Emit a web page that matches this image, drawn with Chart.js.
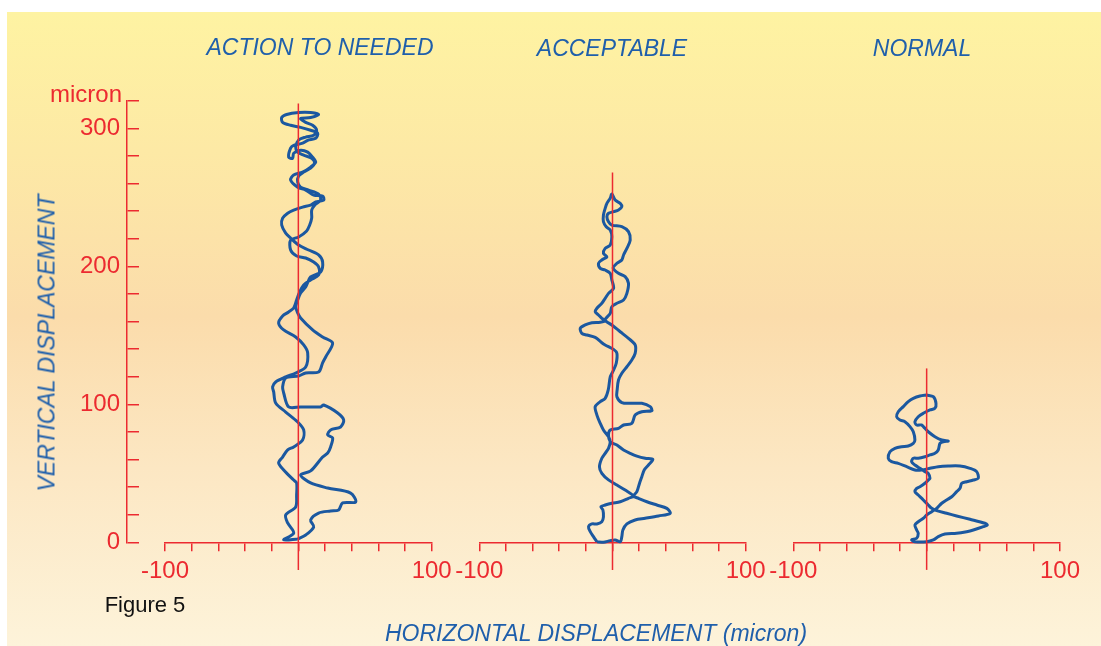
<!DOCTYPE html>
<html>
<head>
<meta charset="utf-8">
<script src="https://cdn.jsdelivr.net/npm/chart.js@4.4.1/dist/chart.umd.min.js"></script>
<style>
html,body{margin:0;padding:0;background:#fff;}
#wrap{position:relative;width:1101px;height:646px;overflow:hidden;background:#fff;}
#bg{position:absolute;left:7px;top:12px;right:0;bottom:0;
 background:linear-gradient(to bottom,#fef3a2 0%,#fde9a5 22%,#fbdcab 48%,#fce7c3 72%,#fdf3da 100%);}
canvas{position:absolute;left:0;top:0;}
.t{position:absolute;font-family:"Liberation Sans",Arial,sans-serif;white-space:nowrap;line-height:1;transform:translate(-50%,-50%);}
.blue{color:#1f5fab;font-style:italic;font-size:23px;}
</style>
</head>
<body>
<div id="wrap">
  <div id="bg"></div>
  <canvas id="cy" width="1101" height="646"></canvas>
  <canvas id="c1" width="1101" height="646"></canvas>
  <canvas id="c2" width="1101" height="646"></canvas>
  <canvas id="c3" width="1101" height="646"></canvas>
  <div class="t blue" id="t1" style="left:320px;top:47px;"></div>
  <div class="t blue" id="t2" style="left:612px;top:48px;"></div>
  <div class="t blue" id="t3" style="left:922px;top:48px;"></div>
  <div class="t blue" id="ty" style="left:47px;top:343px;transform:translate(-50%,-50%) rotate(-90deg);"></div>
  <div class="t blue" id="tx" style="left:596px;top:633px;"></div>
  <div class="t" id="tfig" style="left:145px;top:605px;font-size:22px;color:#111;"></div>
  <div class="t" id="tunit" style="left:86px;top:94px;font-size:24px;color:#ec2a30;"></div>
</div>
<script>
// ---------- data ----------
const panelTitles = ["ACTION TO NEEDED", "ACCEPTABLE", "NORMAL"];
const yAxisTitle = "VERTICAL DISPLACEMENT";
const xAxisTitle = "HORIZONTAL DISPLACEMENT (micron)";
const figureLabel = "Figure 5";
const unitLabel = "micron";
const xLabelValues = [-100, 100];
const yLabelValues = [0, 100, 200, 300];
const xRange = [-100, 100];
const yRange = [0, 320];
const centerLineTop = [318, 268, 126];

const actionX = [-0.5,5.5,11.5,9.2,15.2,24.2,30.2,33.2,43.0,39.2,22.0,9.2,1.7,9.2,18.2,22.0,24.2,25.7,22.0,24.2,31.7,34.0,29.5,19.0,16.7,1.7,-7.3,-11.0,-11.8,-9.5,0.2,5.5,15.2,18.2,20.5,25.7,18.2,10.7,1.7,-0.5,-2.0,-0.5,1.7,5.5,9.2,16.7,18.2,15.2,7.7,0.2,-5.8,-9.5,-12.5,-11.8,-8.0,-3.5,3.2,9.2,13.0,19.0,18.2,11.5,5.5,-0.5,-5.8,-3.5,3.2,9.2,13.0,10.7,7.0,1.7,-3.5,-4.3,-7.3,-5.8,-3.5,3.2,7.0,13.0,14.5,9.2,1.7,-5.8,-11.8,-12.5,-8.8,0.2,9.2,15.2,9.2,1.7,5.5,10.7,13.7,11.5,5.5,0.2,-2.0,-0.5,4.0,10.0,12.2,9.2,4.0,0.2,-0.5,1.7,7.7,15.2,16.7,12.2,10.0,10.0,8.5,6.2,0.2,-5.8,-5.8,-1.3,5.5,11.5,15.2,15.2,9.2,4.0,1.0,-1.3,-3.5,-7.3,-11.8,-14.8,-11.0,-2.0,4.0,7.0,5.5,-2.0,-9.5,-17.0,-19.3,-18.5,-17.0,-9.5,-0.5,4.0,3.2,-3.5,-8.0,-11.8,-14.8,-11.0,-3.5,-1.3,-1.3,-2.0,-9.5,-8.0,-3.5,-11.0,-0.5];
const actionY = [2.4,5.3,11.1,16.2,21.2,22.7,23.4,28.5,29.2,35.7,39.3,43.0,48.8,51.7,61.8,64.7,69.1,75.6,77.8,81.4,83.6,88.6,93.7,99.5,98.1,98.1,98.1,108.2,112.6,119.1,120.5,122.7,123.4,130.0,134.3,144.4,148.8,153.9,162.6,166.3,170.6,175.6,180.7,185.1,192.3,195.9,203.1,208.2,211.8,215.4,220.5,224.1,229.9,234.9,238.5,240.7,242.9,244.3,246.6,248.0,250.9,251.6,255.2,257.3,262.5,266.1,268.3,271.9,275.5,279.1,282.7,284.1,281.9,278.3,279.1,285.6,287.7,289.2,291.3,292.8,296.4,298.6,300.7,302.2,304.3,307.8,310.0,311.4,311.4,310.0,307.8,307.1,304.3,302.2,298.6,295.0,293.6,291.5,286.4,282.7,280.5,278.3,274.7,271.1,268.3,265.4,261.0,257.3,255.2,252.3,248.0,244.3,240.7,234.9,229.9,225.6,221.2,219.0,211.8,207.5,206.0,203.1,199.5,193.7,190.1,186.5,181.4,175.6,169.8,166.9,164.0,158.9,153.9,148.8,143.0,137.2,127.0,122.7,119.8,116.2,112.6,109.0,101.0,94.4,87.2,81.4,74.1,69.1,66.9,61.8,57.5,52.4,45.1,43.0,34.3,25.6,19.8,14.0,6.7,1.7,2.4];

const acceptX = [-11.7,-14.3,-16.7,-18.0,-15.5,-11.7,-8.0,-6.8,-7.2,-8.7,-5.5,-0.5,5.8,12.0,15.8,9.5,3.3,-3.0,-8.0,-9.8,-8.0,-5.5,-3.0,-1.7,-3.0,-6.8,-9.2,-11.7,-13.0,-9.2,-5.5,-3.2,-1.7,0.8,2.8,3.3,0.8,-5.5,-8.0,-13.0,-19.2,-23.0,-24.2,-20.5,-15.5,-9.2,-5.5,-8.0,-10.5,-13.0,-11.7,-8.0,-5.5,-3.0,0.8,-0.5,-1.7,-5.5,-9.2,-10.5,-8.0,-4.2,-6.8,-5.5,-1.7,-0.5,-1.7,-4.7,-6.8,-6.8,-5.5,-4.2,-1.7,-0.5,2.0,5.8,7.0,4.5,0.8,-3.0,-4.2,-3.0,-0.5,7.0,12.0,13.3,10.8,8.3,7.0,3.3,0.5,4.5,9.5,12.0,10.8,8.3,3.3,-0.5,-1.7,-5.5,-0.5,5.8,12.0,17.0,17.0,14.5,10.8,7.0,4.5,3.5,3.3,7.0,14.5,22.0,28.3,29.5,22.0,17.0,14.5,8.3,4.5,-1.7,-3.0,-1.7,3.3,8.3,13.3,18.3,24.5,30.3,27.0,23.8,22.0,20.3,18.3,15.8,19.5,25.8,33.3,40.8,43.3,34.5,24.5,17.0,10.8,7.8,7.0,5.8,2.0,-1.7,-6.8,-11.7];
const acceptY = [0.4,4.1,7.7,11.3,13.3,13.3,14.9,18.5,23.4,25.8,27.0,28.3,29.4,31.9,33.5,37.9,41.5,45.2,50.0,54.8,60.9,64.5,68.1,72.9,76.5,81.4,86.2,92.2,98.3,101.9,104.3,110.4,119.8,124.8,129.7,137.0,139.8,143.0,144.6,148.5,150.2,151.4,155.1,157.5,159.1,159.4,160.6,162.3,164.7,167.1,169.6,173.2,176.8,180.4,184.0,190.1,194.9,197.3,198.5,202.2,204.6,206.9,209.4,213.0,215.4,221.4,226.3,228.7,232.3,237.2,242.0,245.6,249.3,252.4,248.0,245.6,243.2,240.8,239.6,238.4,235.9,232.3,229.9,228.7,225.1,219.0,213.0,208.2,204.6,202.2,198.8,194.9,192.5,187.7,180.4,175.6,173.2,170.7,165.9,161.1,157.5,152.6,147.8,143.0,136.9,132.1,127.2,122.5,117.6,110.4,105.5,101.2,100.7,100.7,98.3,95.4,94.6,92.2,86.2,85.0,82.6,81.4,77.7,72.9,70.5,66.9,64.5,62.5,60.9,60.1,56.0,52.4,47.5,42.8,36.7,33.5,31.9,29.4,27.0,24.6,21.0,19.1,17.4,16.2,13.3,8.9,4.1,0.4,1.7,1.2,0.0,0.4];

const normalX = [0,-5.0,-10.0,-13.8,-17.5,-21.3,-22.5,-20.0,-16.3,-12.5,-10.0,-8.8,-10.0,-13.8,-18.8,-23.8,-27.5,-28.8,-26.3,-21.3,-15.0,-8.8,-3.8,2.5,8.7,16.2,25.0,32.5,37.5,38.7,35.0,30.0,26.3,25.0,22.5,18.8,15.0,11.3,7.5,3.8,0,-2.5,-6.3,-8.8,-7.5,-6.3,-7.5,-11.3,-8.8,0,5.0,8.7,13.7,22.5,30.0,35.0,42.5,45.5,43.7,32.5,22.5,15.0,7.5,3.8,1.2,-2.5,-6.3,-8.8,-7.5,-5.0,-1.3,1.2,2.5,1.2,-1.3,-5.0,-8.8,-11.3,-10.0,-6.3,-1.3,2.5,6.2,8.7,10.0,12.5,16.2,11.3,6.2,1.2,-1.3,-3.8,-7.5,-8.8,-6.3,-2.5,2.5,6.2,7.0,5.0,0];
const normalY = [106.7,106.0,104.3,101.9,98.3,94.6,91.0,88.6,87.4,83.8,80.1,74.1,71.7,69.8,69.3,68.1,65.6,60.9,58.4,57.2,54.8,52.4,52.4,53.6,54.8,55.3,55.3,53.6,51.2,46.4,45.1,43.9,42.8,39.1,36.7,33.0,30.7,28.3,24.6,22.2,19.8,17.4,14.9,12.5,8.9,6.5,2.9,1.7,0.4,0.4,1.7,4.1,6.0,6.5,7.7,8.9,11.3,12.5,13.8,16.7,19.1,21.0,22.9,24.6,27.0,30.7,34.3,36.7,39.1,40.3,42.8,45.1,46.4,50.0,51.2,53.6,56.0,58.4,60.9,60.9,62.0,63.3,64.5,66.9,71.7,72.9,73.4,74.1,76.5,80.1,82.6,85.0,85.0,87.4,91.0,93.5,95.9,97.1,100.7,105.5,106.7];

// ---------- layout / style ----------
const RED = '#ec2a30';
const BLUE = '#1b58a0';
const FONT = '"Liberation Sans", Arial, sans-serif';
const W = 1101, H = 646;
const plotTop = 100.7, plotBottom = 542.3;
const panelLeft = [165, 479.3, 793.3];
const panelRight = [431.7, 745.7, 1060];
const xAxisBox = 60;

Chart.defaults.font.family = FONT;

document.getElementById('t1').textContent = panelTitles[0];
document.getElementById('t2').textContent = panelTitles[1];
document.getElementById('t3').textContent = panelTitles[2];
document.getElementById('ty').textContent = yAxisTitle;
document.getElementById('tx').textContent = xAxisTitle;
document.getElementById('tfig').textContent = figureLabel;
document.getElementById('tunit').textContent = unitLabel;

const centerLine = {
  id: 'centerLine',
  afterDatasetsDraw(chart, args, opts) {
    const x = chart.scales.x, y = chart.scales.y;
    const px = x.getPixelForValue(0);
    const ctx = chart.ctx;
    ctx.save();
    ctx.strokeStyle = RED;
    ctx.lineWidth = 1.5;
    ctx.beginPath();
    ctx.moveTo(px, y.getPixelForValue(opts.top));
    ctx.lineTo(px, y.getPixelForValue(opts.bottom));
    ctx.stroke();
    ctx.restore();
  }
};

// y axis chart
new Chart(document.getElementById('cy'), {
  type: 'scatter',
  data: { datasets: [] },
  options: {
    responsive: false, animation: false, devicePixelRatio: 1, events: [],
    layout: { padding: { left: 127 - 100, right: W - 139, top: plotTop, bottom: H - plotBottom } },
    plugins: { legend: { display: false }, tooltip: { enabled: false } },
    scales: {
      x: { display: false, min: 0, max: 1 },
      y: {
        position: 'left', min: yRange[0], max: yRange[1],
        afterFit: s => { s.width = 100; },
        ticks: {
          stepSize: 20, autoSkip: false, color: RED, padding: 7,
          font: { size: 24, family: FONT },
          callback: v => yLabelValues.includes(v) ? String(v) : ''
        },
        grid: { drawOnChartArea: true, drawTicks: false, color: RED, lineWidth: 1.5 },
        border: { display: true, color: RED, width: 1.5 }
      }
    }
  }
});

function panel(id, xs, ys, idx) {
  const pts = xs.map((v, i) => ({ x: v, y: ys[i] }));
  return new Chart(document.getElementById(id), {
    type: 'scatter',
    data: { datasets: [{
      data: pts, showLine: true, borderColor: BLUE, borderWidth: 3,
      pointRadius: 0, tension: 0.3, fill: false, clip: false
    }] },
    options: {
      responsive: false, animation: false, devicePixelRatio: 1, events: [],
      layout: { padding: { left: panelLeft[idx], right: W - panelRight[idx], top: plotTop, bottom: H - plotBottom - xAxisBox } },
      plugins: { legend: { display: false }, tooltip: { enabled: false }, centerLine: { top: centerLineTop[idx], bottom: -20 } },
      scales: {
        x: {
          type: 'linear', position: 'bottom', min: xRange[0], max: xRange[1],
          afterFit: s => { s.height = xAxisBox; },
          ticks: {
            stepSize: 20, autoSkip: false, maxRotation: 0, minRotation: 0,
            color: RED, padding: 6, font: { size: 24, family: FONT },
            callback: v => xLabelValues.includes(v) ? String(v) : ''
          },
          grid: { drawOnChartArea: false, drawTicks: true, tickLength: 9, color: RED, lineWidth: 1.5 },
          border: { display: true, color: RED, width: 1.5 }
        },
        y: { display: false, min: yRange[0], max: yRange[1] }
      }
    },
    plugins: [centerLine]
  });
}

panel('c1', actionX, actionY, 0);
panel('c2', acceptX, acceptY, 1);
panel('c3', normalX, normalY, 2);
</script>
</body>
</html>
